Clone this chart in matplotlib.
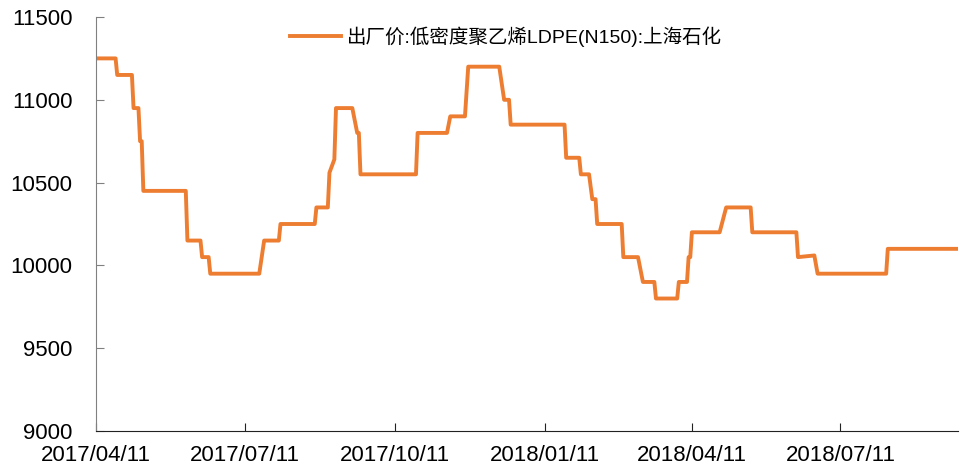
import matplotlib.pyplot as plt
import matplotlib.dates as mdates
import numpy as np
import pandas as pd

plt.rcParams['font.family'] = ['Liberation Sans', 'Noto Sans CJK SC', 'DejaVu Sans']

# price points (date, value)
dates = [
    '2017-04-11', '2017-04-23', '2017-04-24', '2017-05-03', '2017-05-04',
    '2017-05-07', '2017-05-08', '2017-05-09', '2017-05-10', '2017-06-05',
    '2017-06-06', '2017-06-14', '2017-06-15', '2017-06-19', '2017-06-20',
    '2017-07-20', '2017-07-23', '2017-08-01', '2017-08-02', '2017-08-23',
    '2017-08-24', '2017-08-31', '2017-09-01', '2017-09-04', '2017-09-05',
    '2017-09-15', '2017-09-18', '2017-09-19', '2017-09-20', '2017-10-24',
    '2017-10-25', '2017-11-12', '2017-11-14', '2017-11-23', '2017-11-25',
    '2017-12-14', '2017-12-17', '2017-12-20', '2017-12-21', '2018-01-23',
    '2018-01-24', '2018-02-01', '2018-02-02', '2018-02-07', '2018-02-09',
    '2018-02-11', '2018-02-12', '2018-02-27', '2018-02-28', '2018-03-09',
    '2018-03-12', '2018-03-19', '2018-03-20', '2018-04-02', '2018-04-03',
    '2018-04-08', '2018-04-09', '2018-04-10', '2018-04-11', '2018-04-28',
    '2018-05-02', '2018-05-17', '2018-05-18', '2018-06-14', '2018-06-15',
    '2018-06-25', '2018-06-27', '2018-08-08', '2018-08-09', '2018-09-21',
]
prices = [
    11250, 11250, 11150, 11150, 10950,
    10950, 10750, 10750, 10450, 10450,
    10150, 10150, 10050, 10050, 9950,
    9950, 10150, 10150, 10250, 10250,
    10350, 10350, 10560, 10640, 10950,
    10950, 10800, 10800, 10550, 10550,
    10800, 10800, 10900, 10900, 11200,
    11200, 11000, 11000, 10850, 10850,
    10650, 10650, 10550, 10550, 10400,
    10400, 10250, 10250, 10050, 10050,
    9900, 9900, 9800, 9800, 9900,
    9900, 10050, 10050, 10200, 10200,
    10350, 10350, 10200, 10200, 10050,
    10060, 9950, 9950, 10100, 10100,
]
series_name = '出厂价:低密度聚乙烯LDPE(N150):上海石化'
tick_dates = ['2017-04-11', '2017-07-11', '2017-10-11', '2018-01-11', '2018-04-11', '2018-07-11']
y_ticks = [9000, 9500, 10000, 10500, 11000, 11500]

x = pd.to_datetime(dates)

fig = plt.figure(figsize=(9.61, 4.69), dpi=100)
ax = fig.add_axes([96 / 961, 1 - 431 / 469, 862 / 961, 414 / 469])
ax.plot(x, prices, color='#ED7D31', lw=2.8, solid_joinstyle='round', label=series_name)

ax.set_ylim(9000, 11500)
ax.set_xlim(pd.Timestamp('2017-04-11'), pd.Timestamp('2018-09-21'))
ax.set_yticks(y_ticks)
ax.set_xticks(pd.to_datetime(tick_dates))
ax.xaxis.set_major_formatter(mdates.DateFormatter('%Y/%m/%d'))

for s in ['top', 'right']:
    ax.spines[s].set_visible(False)
ax.spines['left'].set_color('#808080')
ax.spines['bottom'].set_color('#222222')
ax.tick_params(axis='y', direction='in', length=6, color='#808080', labelsize=16, pad=17)
ax.tick_params(axis='x', direction='in', length=6, color='#222222', labelsize=16, pad=10)

leg = ax.legend(loc='center', bbox_to_anchor=((506 - 96) / 862, (431 - 37) / 414),
                frameon=False, handlelength=2.6, handletextpad=0.3,
                prop={'family': ['Liberation Sans', 'Noto Sans CJK SC'], 'size': 14})

fig.savefig('out.png', dpi=100)
